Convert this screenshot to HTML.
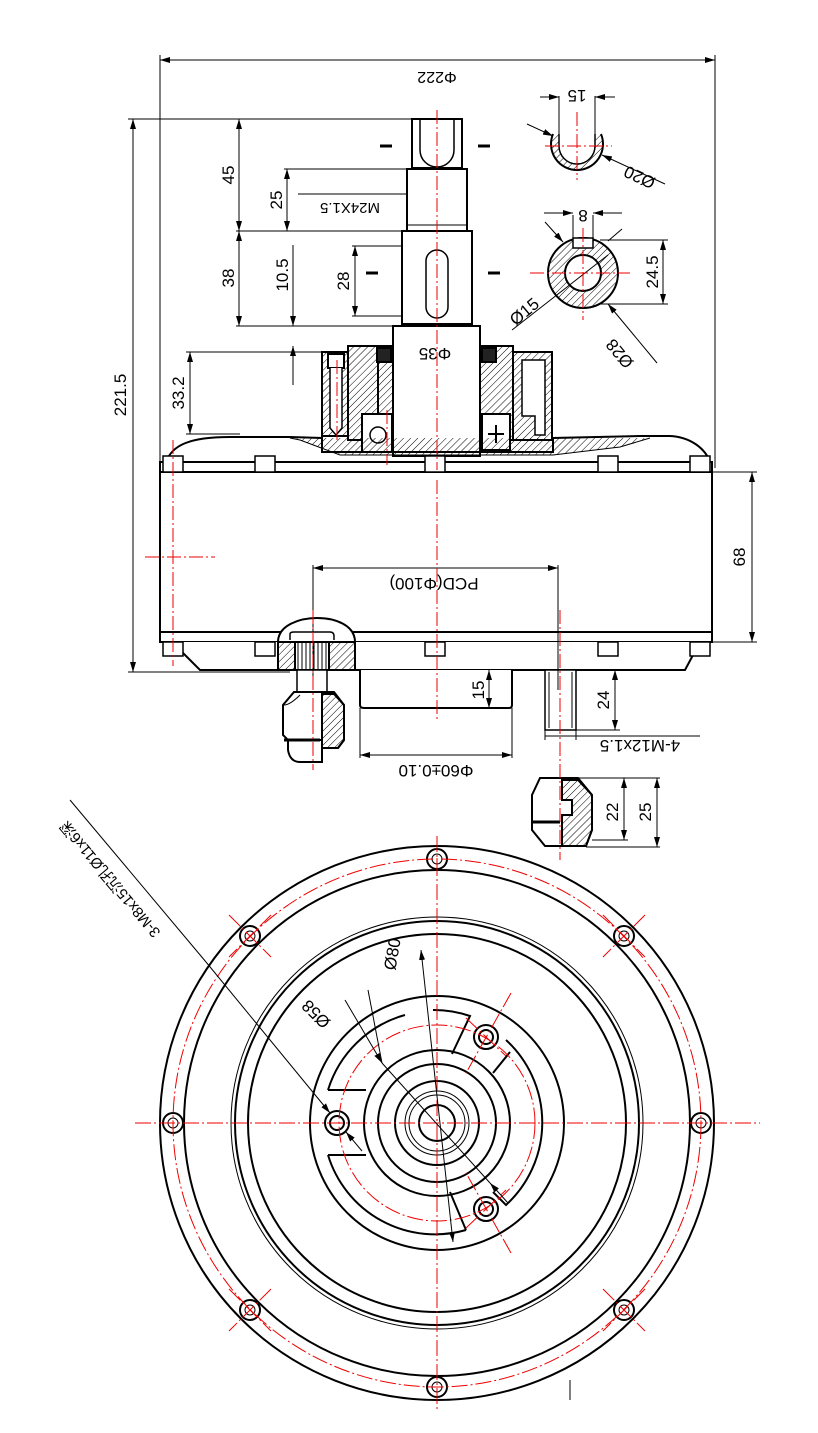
<!DOCTYPE html>
<html><head><meta charset="utf-8"><style>
html,body{margin:0;padding:0;background:#fff}
svg{display:block}
text{font-family:"Liberation Sans","Noto Sans CJK SC",sans-serif;fill:#000}
</style></head><body>
<svg width="818" height="1433" viewBox="0 0 818 1433" xmlns="http://www.w3.org/2000/svg">
<defs>
<pattern id="h" width="5" height="5" patternUnits="userSpaceOnUse" patternTransform="rotate(45)"><line x1="0" y1="0" x2="0" y2="5" stroke="#000" stroke-width="1"/></pattern>
<marker id="a" viewBox="0 0 10 6" refX="10" refY="3" markerWidth="10" markerHeight="6" orient="auto-start-reverse" markerUnits="userSpaceOnUse"><path d="M0,0L10,3L0,6z" fill="#000"/></marker>
</defs>
<g fill="none" stroke="#000" stroke-width="1">
<line x1="160" y1="60" x2="715" y2="60" marker-start="url(#a)" marker-end="url(#a)"/>
<line x1="160" y1="55" x2="160" y2="468"/><line x1="715" y1="55" x2="715" y2="468"/>
<line x1="133" y1="119" x2="133" y2="672" marker-start="url(#a)" marker-end="url(#a)"/>
<line x1="128" y1="119" x2="412" y2="119"/><line x1="128" y1="672" x2="290" y2="672"/>
<line x1="239" y1="119" x2="239" y2="231" marker-start="url(#a)" marker-end="url(#a)"/>
<line x1="239" y1="231" x2="239" y2="326" marker-start="url(#a)" marker-end="url(#a)"/>
<line x1="236" y1="231" x2="402" y2="231"/><line x1="236" y1="326" x2="393" y2="326"/>
<line x1="287" y1="169" x2="287" y2="231" marker-start="url(#a)" marker-end="url(#a)"/>
<line x1="284" y1="169" x2="407" y2="169"/>
<line x1="298" y1="194" x2="467" y2="194"/>
<line x1="293" y1="245" x2="293" y2="326" marker-end="url(#a)"/>
<line x1="293" y1="385" x2="293" y2="346" marker-end="url(#a)"/>
<line x1="355" y1="246" x2="355" y2="316" marker-start="url(#a)" marker-end="url(#a)"/>
<line x1="352" y1="246" x2="430" y2="246"/><line x1="352" y1="316" x2="430" y2="316"/>
<line x1="190" y1="352" x2="190" y2="434" marker-start="url(#a)" marker-end="url(#a)"/>
<line x1="186" y1="352" x2="322" y2="352"/><line x1="186" y1="434" x2="240" y2="434"/>
</g>
<g stroke="#000" stroke-width="2" fill="#fff">
<path d="M412,119H462V168H412Z"/>
<path d="M420,120V150A13,13 0 0 0 454,150V120" fill="none" stroke-width="1.5"/>
<rect x="407" y="169" width="60" height="62"/>
<line x1="407" y1="225" x2="467" y2="225" stroke-width="1"/>
<rect x="402" y="231" width="70" height="93"/>
<rect x="426" y="250" width="22" height="68" rx="11" stroke-width="1.5"/>
<rect x="393" y="326" width="87" height="130"/>
<path d="M322,352H348V436H322Z" fill="url(#h)"/>
<path d="M348,352V346H378V440H348Z" fill="url(#h)"/>
<path d="M378,346H393V450H378Z" fill="url(#h)"/>
<path d="M480,346H513V440H480Z" fill="url(#h)"/>
<path d="M513,352H552V440H513Z" fill="url(#h)"/>
<rect x="362" y="414" width="30" height="38" fill="#fff"/>
<circle cx="378" cy="435" r="8" stroke-width="1.5"/>
<rect x="482" y="414" width="28" height="36" fill="#fff"/>
<path d="M496,425V443M488,434H504" stroke-width="2"/>
<rect x="328" y="354" width="16" height="14" fill="#fff"/>
<path d="M330,368V428L336,435L342,428V368" fill="#fff" stroke-width="1.5"/>
<rect x="377" y="348" width="14" height="14" fill="#222"/>
<rect x="482" y="348" width="14" height="14" fill="#222"/>
<path d="M522,360V416H535V435H545V360Z" fill="#fff" stroke-width="1.5"/>
<path d="M166,462C172,445 190,437 230,437H290L322,438V452H553V438L640,436H670C690,437 705,448 710,462" fill="none"/>
<path d="M290,438L300,440L340,455H553L620,447L650,438" fill="url(#h)" stroke-width="1"/>
<rect x="160" y="462" width="552" height="180" fill="#fff"/>
<line x1="160" y1="472" x2="712" y2="472"/>
<line x1="160" y1="632" x2="712" y2="632"/>
<path d="M172,642L200,670H685L700,642" fill="#fff"/>
<path d="M360,670V705Q360,708 364,708H509Q512,708 512,705V670"/>
<rect x="545" y="670" width="31" height="60" stroke-width="1.5"/>
<line x1="549" y1="672" x2="549" y2="728" stroke-width="1"/><line x1="572" y1="672" x2="572" y2="728" stroke-width="1"/>
<path d="M278,642C278,625 300,618 317,618C335,618 355,625 355,642" fill="#fff"/>
<path d="M290,640V634Q290,632 294,632H330Q334,632 334,636V640" fill="none" stroke-width="1.5"/>
<path d="M278,642H355V670H278Z" fill="url(#h)"/>
<rect x="295" y="642" width="34" height="28" fill="#fff"/>
<path d="M298,643V669M302,643V669M306,643V669M310,643V669M314,643V669M318,643V669M322,643V669M326,643V669" stroke-width="1"/>
<rect x="297" y="670" width="30" height="22" stroke-width="1.5"/>
<path d="M294,692H334L344,705V740L338,748H296L283,735V705Z"/>
<path d="M322,694H334L344,705V740L338,748H322Z" fill="url(#h)"/>
<path d="M288,740H322V762H300Q290,762 288,750Z"/>
<line x1="284" y1="740" x2="320" y2="740" stroke-width="3"/>
<path d="M300,695Q290,705 284,705" fill="none" stroke-width="1"/>
<path d="M540,778H578L592,795V830L586,846H545L532,830V795Z"/>
<path d="M562,780H578L592,795V830L586,846H562V815H572V800H562Z" fill="url(#h)"/>
<line x1="532" y1="822" x2="560" y2="822" stroke-width="3"/>
<path d="M553,134A26,26 0 1 0 601,134" fill="url(#h)"/>
<path d="M559,134V146A18,18 0 0 0 595,146V134" fill="#fff" stroke-width="1.5"/>
<circle cx="583" cy="273" r="35" fill="url(#h)"/>
<circle cx="583" cy="273" r="18" fill="#fff"/>
<rect x="573" y="238" width="20" height="10" fill="#fff" stroke-width="1.5"/>
</g>
<g stroke="#000" stroke-width="1.5" fill="#fff">
<path d="M163,456H183V472H163Z"/><path d="M255,456H275V472H255Z"/><path d="M425,456H445V472H425Z"/><path d="M598,456H618V472H598Z"/><path d="M690,456H710V472H690Z"/>
<path d="M163,642H183V656H163Z"/><path d="M255,642H275V656H255Z"/><path d="M425,642H445V656H425Z"/><path d="M598,642H618V656H598Z"/><path d="M690,642H710V656H690Z"/>
</g>
<g fill="none" stroke="#000" stroke-width="1">
<line x1="752" y1="472" x2="752" y2="642" marker-start="url(#a)" marker-end="url(#a)"/>
<line x1="712" y1="472" x2="757" y2="472"/><line x1="712" y1="642" x2="757" y2="642"/>
<line x1="313" y1="568" x2="558" y2="568" marker-start="url(#a)" marker-end="url(#a)"/>
<line x1="313" y1="565" x2="313" y2="690"/><line x1="558" y1="565" x2="558" y2="690"/>
<line x1="489" y1="670" x2="489" y2="708" marker-start="url(#a)" marker-end="url(#a)"/>
<line x1="615" y1="670" x2="615" y2="730" marker-start="url(#a)" marker-end="url(#a)"/>
<line x1="576" y1="730" x2="620" y2="730"/>
<line x1="545" y1="736" x2="700" y2="736"/>
<line x1="545" y1="730" x2="545" y2="740"/><line x1="576" y1="730" x2="576" y2="740"/>
<line x1="360" y1="708" x2="360" y2="758"/><line x1="512" y1="708" x2="512" y2="758"/>
<line x1="360" y1="755" x2="512" y2="755" marker-start="url(#a)" marker-end="url(#a)"/>
<line x1="624" y1="778" x2="624" y2="840" marker-start="url(#a)" marker-end="url(#a)"/>
<line x1="657" y1="778" x2="657" y2="847" marker-start="url(#a)" marker-end="url(#a)"/>
<line x1="578" y1="778" x2="660" y2="778"/><line x1="592" y1="840" x2="628" y2="840"/><line x1="586" y1="847" x2="660" y2="847"/>
<line x1="559" y1="96" x2="559" y2="134"/><line x1="595" y1="96" x2="595" y2="134"/>
<line x1="540" y1="97" x2="559" y2="97" marker-end="url(#a)"/><line x1="615" y1="97" x2="595" y2="97" marker-end="url(#a)"/>
<line x1="527" y1="124" x2="553" y2="136" marker-end="url(#a)"/>
<line x1="665" y1="184" x2="602" y2="155" marker-end="url(#a)"/>
<line x1="573" y1="215" x2="573" y2="248"/><line x1="593" y1="215" x2="593" y2="248"/>
<line x1="544" y1="213" x2="573" y2="213" marker-end="url(#a)"/><line x1="622" y1="213" x2="593" y2="213" marker-end="url(#a)"/>
<line x1="545" y1="222" x2="563" y2="242" marker-end="url(#a)"/>
<line x1="512" y1="330" x2="608" y2="255"/>
<line x1="657" y1="363" x2="608" y2="304" marker-end="url(#a)"/>
<line x1="608" y1="241" x2="622" y2="229"/>
<line x1="663" y1="240" x2="663" y2="304" marker-start="url(#a)" marker-end="url(#a)"/>
<line x1="600" y1="240" x2="668" y2="240"/><line x1="600" y1="304" x2="668" y2="304"/>
</g>
<g stroke="#000" stroke-width="3">
<line x1="380" y1="146" x2="392" y2="146"/><line x1="478" y1="146" x2="490" y2="146"/>
<line x1="366" y1="273" x2="378" y2="273"/><line x1="488" y1="273" x2="500" y2="273"/>
</g>
<g stroke="#e00" stroke-width="1" stroke-dasharray="14,3,2,3" fill="none">
<line x1="437" y1="110" x2="437" y2="470"/>
<line x1="437" y1="480" x2="437" y2="720"/>
<line x1="577" y1="112" x2="577" y2="180"/><line x1="545" y1="146" x2="612" y2="146"/>
<line x1="583" y1="228" x2="583" y2="320"/><line x1="530" y1="273" x2="630" y2="273"/>
<line x1="173" y1="440" x2="173" y2="666"/><line x1="145" y1="557" x2="215" y2="557"/>
<line x1="337" y1="360" x2="337" y2="440"/>
<line x1="387" y1="410" x2="387" y2="465"/>
<line x1="313" y1="610" x2="313" y2="770"/>
<line x1="560" y1="610" x2="560" y2="860"/>
</g>
<g fill="none" stroke="#000" stroke-width="2">
<circle cx="437" cy="1123" r="277"/>
<circle cx="437" cy="1123" r="253"/>
<circle cx="437" cy="1123" r="206" stroke-width="1"/>
<circle cx="437" cy="1123" r="202"/>
<circle cx="437" cy="1123" r="189"/>
<circle cx="437" cy="1123" r="127"/>
<circle cx="437" cy="1123" r="73"/>
<circle cx="437" cy="1123" r="59"/>
<circle cx="437" cy="1123" r="42"/>
<circle cx="437" cy="1123" r="32" stroke-width="1"/>
<circle cx="437" cy="1123" r="28" stroke-width="1"/>
<circle cx="437" cy="1123" r="18"/>
<path d="M328,1090A112,112 0 0 1 405,1015"/>
<path d="M328,1090H366"/>
<path d="M328,1155A112,112 0 0 0 466,1230"/>
<path d="M328,1155H366"/>
<path d="M433,1010A112,112 0 0 1 470,1016L452,1054"/>
<path d="M506,1040A112,112 0 0 1 506,1205L493,1192"/>
<path d="M510,1052L493,1073"/>
<path d="M466,1230L450,1192"/>
</g>
<g fill="#fff" stroke="#000" stroke-width="2">
<circle cx="337" cy="1123" r="12"/><circle cx="337" cy="1123" r="7"/>
<circle cx="486" cy="1037" r="12"/><circle cx="486" cy="1037" r="7"/>
<circle cx="486" cy="1209" r="12"/><circle cx="486" cy="1209" r="7"/>
<circle cx="437" cy="859" r="10"/><circle cx="437" cy="1387" r="10"/>
<circle cx="173" cy="1123" r="10"/><circle cx="701" cy="1123" r="10"/>
<circle cx="250" cy="936" r="10"/><circle cx="624" cy="936" r="10"/>
<circle cx="250" cy="1310" r="10"/><circle cx="624" cy="1310" r="10"/>
</g>
<g stroke="#000" stroke-width="1" fill="none">
<circle cx="437" cy="859" r="5"/><circle cx="437" cy="1387" r="5"/>
<circle cx="173" cy="1123" r="5"/><circle cx="701" cy="1123" r="5"/>
<circle cx="250" cy="936" r="5"/><circle cx="624" cy="936" r="5"/>
<circle cx="250" cy="1310" r="5"/><circle cx="624" cy="1310" r="5"/>
</g>
<g stroke="#e00" stroke-width="1" fill="none" stroke-dasharray="16,3,2,3">
<circle cx="437" cy="1123" r="264"/>
<circle cx="437" cy="1123" r="98"/>
<line x1="437" y1="836" x2="437" y2="1410"/>
<line x1="135" y1="1123" x2="760" y2="1123"/>
<line x1="229" y1="915" x2="271" y2="957"/><line x1="271" y1="915" x2="229" y2="957"/>
<line x1="603" y1="915" x2="645" y2="957"/><line x1="645" y1="915" x2="603" y2="957"/>
<line x1="229" y1="1289" x2="271" y2="1331"/><line x1="271" y1="1289" x2="229" y2="1331"/>
<line x1="603" y1="1289" x2="645" y2="1331"/><line x1="645" y1="1289" x2="603" y2="1331"/>
<line x1="511" y1="993" x2="466" y2="1073"/><line x1="466" y1="1018" x2="506" y2="1056"/>
<line x1="511" y1="1253" x2="466" y2="1173"/><line x1="466" y1="1228" x2="506" y2="1190"/>
</g>
<g stroke="#000" stroke-width="1" fill="none">
<line x1="70" y1="800" x2="206" y2="962"/>
<line x1="206" y1="962" x2="330" y2="1113" marker-end="url(#a)"/>
<line x1="362" y1="1151" x2="346" y2="1132" marker-end="url(#a)"/>
<line x1="421" y1="950" x2="453" y2="1242" marker-start="url(#a)" marker-end="url(#a)"/>
<line x1="368" y1="990" x2="382" y2="1063" />
<line x1="345" y1="1000" x2="382" y2="1063" marker-end="url(#a)"/>
<line x1="490" y1="1183" x2="508" y2="1203" marker-start="url(#a)"/>
<line x1="382" y1="1063" x2="490" y2="1183"/>
<line x1="570" y1="1380" x2="570" y2="1400"/>
</g>
<g font-size="17">
<text transform="translate(437,72) rotate(180)" text-anchor="middle" font-size="16">Φ222</text>
<text transform="translate(126,395) rotate(-90)" text-anchor="middle">221.5</text>
<text transform="translate(234,175) rotate(-90)" text-anchor="middle">45</text>
<text transform="translate(234,278) rotate(-90)" text-anchor="middle">38</text>
<text transform="translate(282,200) rotate(-90)" text-anchor="middle">25</text>
<text transform="translate(350,203) rotate(180)" text-anchor="middle" font-size="15">M24X1.5</text>
<text transform="translate(288,275) rotate(-90)" text-anchor="middle">10.5</text>
<text transform="translate(349,281) rotate(-90)" text-anchor="middle">28</text>
<text transform="translate(184,393) rotate(-90)" text-anchor="middle">33.2</text>
<text transform="translate(435,348) rotate(180)" text-anchor="middle">Φ35</text>
<text transform="translate(434,578) rotate(180)" text-anchor="middle">PCD(Φ100)</text>
<text transform="translate(745,557) rotate(-90)" text-anchor="middle">68</text>
<text transform="translate(484,690) rotate(-90)" text-anchor="middle">15</text>
<text transform="translate(609,700) rotate(-90)" text-anchor="middle">24</text>
<text transform="translate(640,740) rotate(180)" text-anchor="middle">4-M12x1.5</text>
<text transform="translate(436,765) rotate(180)" text-anchor="middle">Φ60±0.10</text>
<text transform="translate(618,812) rotate(-90)" text-anchor="middle">22</text>
<text transform="translate(651,812) rotate(-90)" text-anchor="middle">25</text>
<text transform="translate(577,90) rotate(180)" text-anchor="middle">15</text>
<text transform="translate(642,172) rotate(205)" text-anchor="middle">Ø20</text>
<text transform="translate(583,210) rotate(180)" text-anchor="middle">8</text>
<text transform="translate(658,272) rotate(-90)" text-anchor="middle">24.5</text>
<text transform="translate(528,316) rotate(-40)" text-anchor="middle">Ø15</text>
<text transform="translate(624,350) rotate(230)" text-anchor="middle">Ø28</text>
<text transform="translate(398,955) rotate(-80)" text-anchor="middle">Ø80</text>
<text transform="translate(320,1010) rotate(225)" text-anchor="middle">Ø58</text>
<text transform="translate(114,876) rotate(230)" text-anchor="middle" font-size="15">3-M8x15沉孔Ø11x6深</text>
</g>
</svg>
</body></html>
